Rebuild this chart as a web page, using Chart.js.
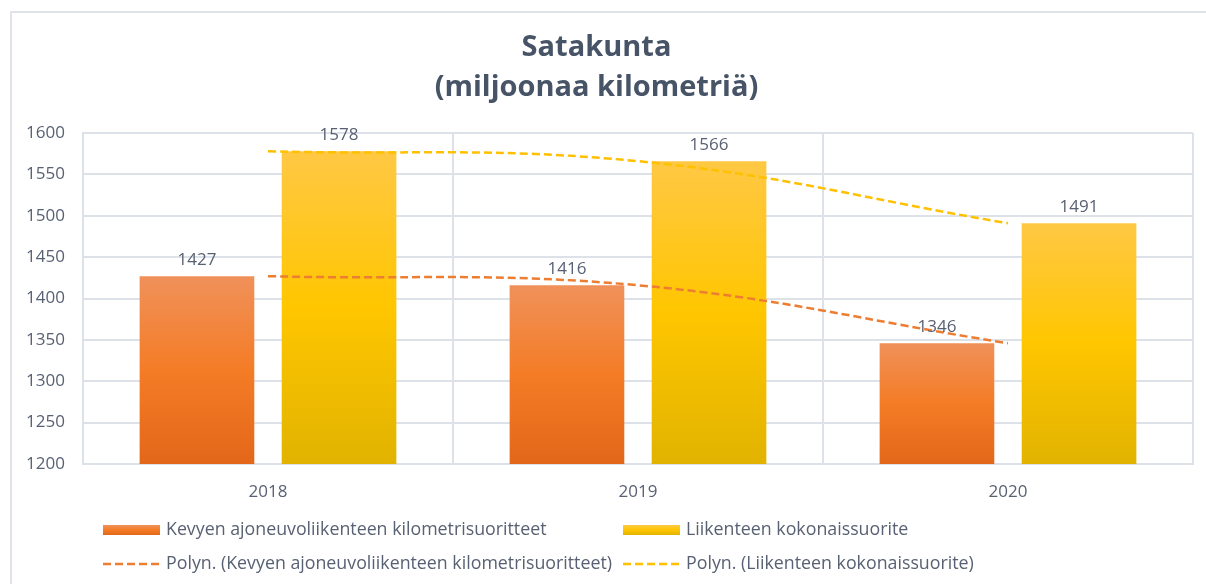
<!DOCTYPE html>
<html>
<head>
<meta charset="utf-8">
<script src="https://cdn.jsdelivr.net/npm/chart.js@4"></script>
<style>
  html, body { margin: 0; padding: 0; background: #fff; }
  #wrap { width: 1206px; height: 584px; position: relative; }
</style>
</head>
<body>
<div id="wrap"><canvas id="myChart" width="1206" height="584"></canvas></div>
<script>
const years = ['2018', '2019', '2020'];
const kevyet = [1427, 1416, 1346];
const kokonais = [1578, 1566, 1491];
const yTicks = [1200, 1250, 1300, 1350, 1400, 1450, 1500, 1550, 1600];

const labelKevyet = 'Kevyen ajoneuvoliikenteen kilometrisuoritteet';
const labelKokonais = 'Liikenteen kokonaissuorite';

const FONT = '"Open Sans", Lato, sans-serif';
const TEXT = '#586173';
const GRID = '#dde1e8';

// per-bar vertical gradient (top light -> bottom dark), like the Excel fill
function barGradient(stops) {
  return function (c) {
    const chart = c.chart;
    const area = chart.chartArea;
    if (!area || c.parsed === undefined) return stops[1];
    const top = chart.scales.y.getPixelForValue(c.parsed.y);
    const g = chart.ctx.createLinearGradient(0, top, 0, area.bottom);
    g.addColorStop(0, stops[0]);
    g.addColorStop(0.5, stops[1]);
    g.addColorStop(1, stops[2]);
    return g;
  };
}
const orangeStops = ['#f0915a', '#f47c26', '#e36719'];
const yellowStops = ['#ffc844', '#ffc600', '#e1b300'];

// value labels over the bars
const barLabels = {
  id: 'barLabels',
  afterDatasetsDraw(chart) {
    const ctx = chart.ctx;
    ctx.save();
    ctx.font = '17px ' + FONT;
    ctx.fillStyle = TEXT;
    ctx.textAlign = 'center';
    ctx.textBaseline = 'bottom';
    chart.data.datasets.forEach((ds, i) => {
      if (ds.type !== 'bar') return;
      chart.getDatasetMeta(i).data.forEach((bar, j) => {
        ctx.fillText(ds.data[j], bar.x, bar.y - 8);
      });
    });
    ctx.restore();
  }
};

// outer frame + 2x2 legend like excel
const frameLegend = {
  id: 'frameLegend',
  beforeDraw(chart) {
    const ctx = chart.ctx;
    ctx.save();
    ctx.strokeStyle = '#dfe2e8';
    ctx.lineWidth = 2;
    ctx.strokeRect(11, 12, 1400, 1000);
    ctx.restore();
  },
  afterDraw(chart) {
    const ctx = chart.ctx;
    const items = [
      { x: 103, y: 530, kind: 'bar', stops: orangeStops, text: labelKevyet },
      { x: 623, y: 530, kind: 'bar', stops: yellowStops, text: labelKokonais },
      { x: 103, y: 564, kind: 'line', color: '#ed7d31', text: 'Polyn. (' + labelKevyet + ')' },
      { x: 623, y: 564, kind: 'line', color: '#ffc000', text: 'Polyn. (' + labelKokonais + ')' }
    ];
    const w = 57;
    ctx.save();
    items.forEach(it => {
      if (it.kind === 'bar') {
        const g = ctx.createLinearGradient(0, it.y - 5, 0, it.y + 5);
        g.addColorStop(0, it.stops[0]);
        g.addColorStop(0.5, it.stops[1]);
        g.addColorStop(1, it.stops[2]);
        ctx.fillStyle = g;
        ctx.fillRect(it.x, it.y - 5, w, 10);
      } else {
        ctx.strokeStyle = it.color;
        ctx.lineWidth = 2.5;
        ctx.setLineDash([8, 4]);
        ctx.beginPath();
        ctx.moveTo(it.x, it.y);
        ctx.lineTo(it.x + w, it.y);
        ctx.stroke();
        ctx.setLineDash([]);
      }
      ctx.font = '17.8px ' + FONT;
      ctx.fillStyle = TEXT;
      ctx.textAlign = 'left';
      ctx.textBaseline = 'middle';
      ctx.fillText(it.text, it.x + w + 6, it.y);
    });
    ctx.restore();
  }
};

const ctx = document.getElementById('myChart');

new Chart(ctx, {
  data: {
    labels: years,
    datasets: [
      {
        type: 'line',
        label: 'Polyn. (' + labelKevyet + ')',
        data: kevyet,
        borderColor: '#ed7d31',
        borderWidth: 2.5,
        borderDash: [8, 4],
        pointRadius: 0,
        tension: 0.4,
        fill: false,
        order: 0
      },
      {
        type: 'line',
        label: 'Polyn. (' + labelKokonais + ')',
        data: kokonais,
        borderColor: '#ffc000',
        borderWidth: 2.5,
        borderDash: [8, 4],
        pointRadius: 0,
        tension: 0.4,
        fill: false,
        order: 0
      },
      {
        type: 'bar',
        label: labelKevyet,
        data: kevyet,
        backgroundColor: barGradient(orangeStops),
        categoryPercentage: 0.768,
        barPercentage: 0.807,
        order: 1
      },
      {
        type: 'bar',
        label: labelKokonais,
        data: kokonais,
        backgroundColor: barGradient(yellowStops),
        categoryPercentage: 0.768,
        barPercentage: 0.807,
        order: 1
      }
    ]
  },
  options: {
    responsive: false,
    animation: false,
    layout: { padding: { left: 0, right: 13, top: 0, bottom: 83 } },
    plugins: {
      legend: { display: false },
      tooltip: { enabled: false },
      title: {
        display: true,
        text: ['Satakunta', '(miljoonaa kilometriä)'],
        color: '#475467',
        font: { family: FONT, size: 29, weight: 'bold', lineHeight: 1.38 },
        padding: { top: 28, bottom: 25 }
      }
    },
    scales: {
      x: {
        offset: true,
        grid: { color: GRID, lineWidth: 2, offset: true, drawTicks: false },
        border: { color: GRID, width: 2 },
        ticks: { color: TEXT, font: { family: FONT, size: 17 }, padding: 18 },
        afterFit(scale) { scale.height = 37; }
      },
      y: {
        min: 1200,
        max: 1600,
        afterBuildTicks(scale) { scale.ticks = yTicks.map(v => ({ value: v })); },
        grid: { color: GRID, lineWidth: 2, drawTicks: false },
        border: { color: GRID, width: 2 },
        ticks: {
          color: TEXT,
          font: { family: FONT, size: 17 },
          padding: 18,
          callback: v => String(v)
        },
        afterFit(scale) { scale.width = 83; }
      }
    }
  },
  plugins: [barLabels, frameLegend]
});
</script>
</body>
</html>
